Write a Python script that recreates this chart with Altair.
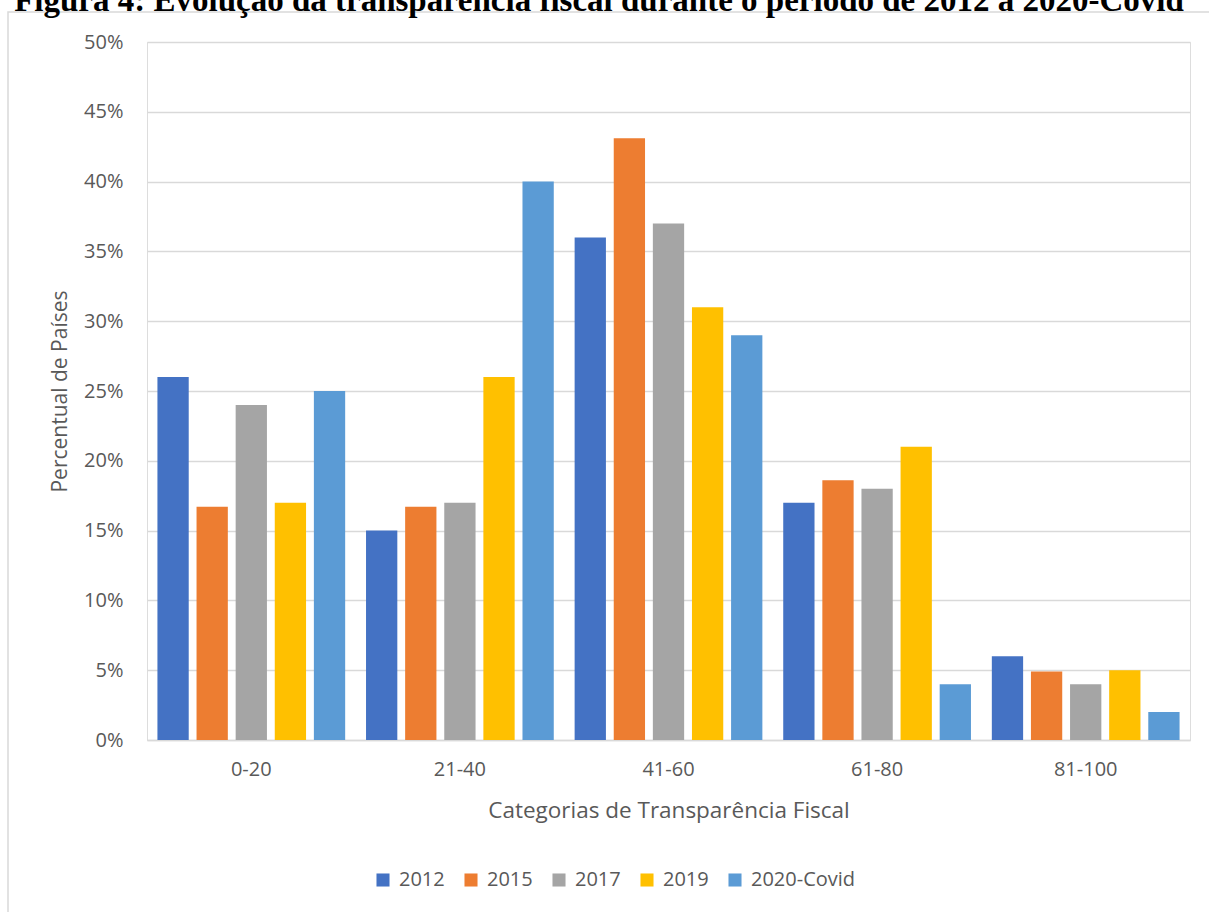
import altair as alt
import pandas as pd

categories = ["0-20", "21-40", "41-60", "61-80", "81-100"]
series = ["2012", "2015", "2017", "2019", "2020-Covid"]
v2012 = [26, 15, 36, 17, 6]
v2015 = [16.7, 16.7, 43.1, 18.6, 4.9]
v2017 = [24, 17, 37, 18, 4]
v2019 = [17, 26, 31, 21, 5]
v2020 = [25, 40, 29, 4, 2]
colors = ["#4472C4", "#ED7D31", "#A5A5A5", "#FFC000", "#5B9BD5"]
title_text = "Figura 4: Evolução da transparência fiscal durante o período de 2012 a 2020-Covid"

rows = []
for s, vals in zip(series, [v2012, v2015, v2017, v2019, v2020]):
    for c, v in zip(categories, vals):
        rows.append({"cat": c, "serie": s, "val": v})
df = pd.DataFrame(rows)

FONT = "Open Sans"
GRAY = "#595959"

bars = alt.Chart(df).mark_bar().encode(
    x=alt.X("cat:N", sort=categories,
            scale=alt.Scale(paddingInner=0.1, paddingOuter=0.05),
            axis=alt.Axis(title="Categorias de Transparência Fiscal", labelAngle=0,
                          labelFont=FONT, labelFontSize=20, labelColor=GRAY,
                          labelPadding=19, ticks=False, domainColor="#d9d9d9",
                          domainWidth=1.5, titleFont=FONT, titleFontSize=22.5,
                          titleFontWeight="normal", titleColor=GRAY,
                          titleY=70, titleBaseline="middle")),
    xOffset=alt.XOffset("serie:N", sort=series,
                        scale=alt.Scale(paddingInner=0.2, paddingOuter=0)),
    y=alt.Y("val:Q", scale=alt.Scale(domain=[0, 50]),
            axis=alt.Axis(title="Percentual de Países", values=list(range(0, 51, 5)),
                          labelExpr="datum.value + '%'", labelFont=FONT,
                          labelFontSize=20, labelColor=GRAY, labelPadding=24,
                          ticks=False, domain=False, gridColor="#d9d9d9",
                          gridWidth=1.5, titleFont=FONT, titleFontSize=21,
                          titleFontWeight="normal", titleColor=GRAY,
                          titleX=-87, titleY=349, titleAlign="center",
                          titleBaseline="middle")),
    color=alt.Color("serie:N", sort=series,
                    scale=alt.Scale(domain=series, range=colors),
                    legend=alt.Legend(title=None, orient="none", legendX=226,
                                      legendY=828, direction="horizontal",
                                      columns=5, symbolType="square",
                                      symbolSize=170, symbolStrokeWidth=0,
                                      labelFont=FONT, labelFontSize=20,
                                      labelColor=GRAY, labelOffset=6,
                                      columnPadding=16)),
)

border = alt.Chart(pd.DataFrame({"a": [0]})).mark_rect(
    fill=None, stroke="#d9d9d9", strokeWidth=1.5
).encode(x=alt.value(-139), x2=alt.value(1200), y=alt.value(-30), y2=alt.value(1000))

title = alt.Chart(pd.DataFrame({"t": [title_text]})).mark_text(
    font="Liberation Serif", fontSize=33, fontWeight="bold", color="black",
    align="center", baseline="alphabetic"
).encode(text="t:N", x=alt.value(452), y=alt.value(-31))

chart = alt.layer(border, bars, title).properties(
    width=1043, height=698,
    padding={"left": 147, "top": 42, "right": 19, "bottom": 172},
    autosize=alt.AutoSizeParams(type="none"),
).configure_view(stroke=None).configure(background="white")

chart.save("out.html", embed_options={"renderer": "svg", "actions": False})
